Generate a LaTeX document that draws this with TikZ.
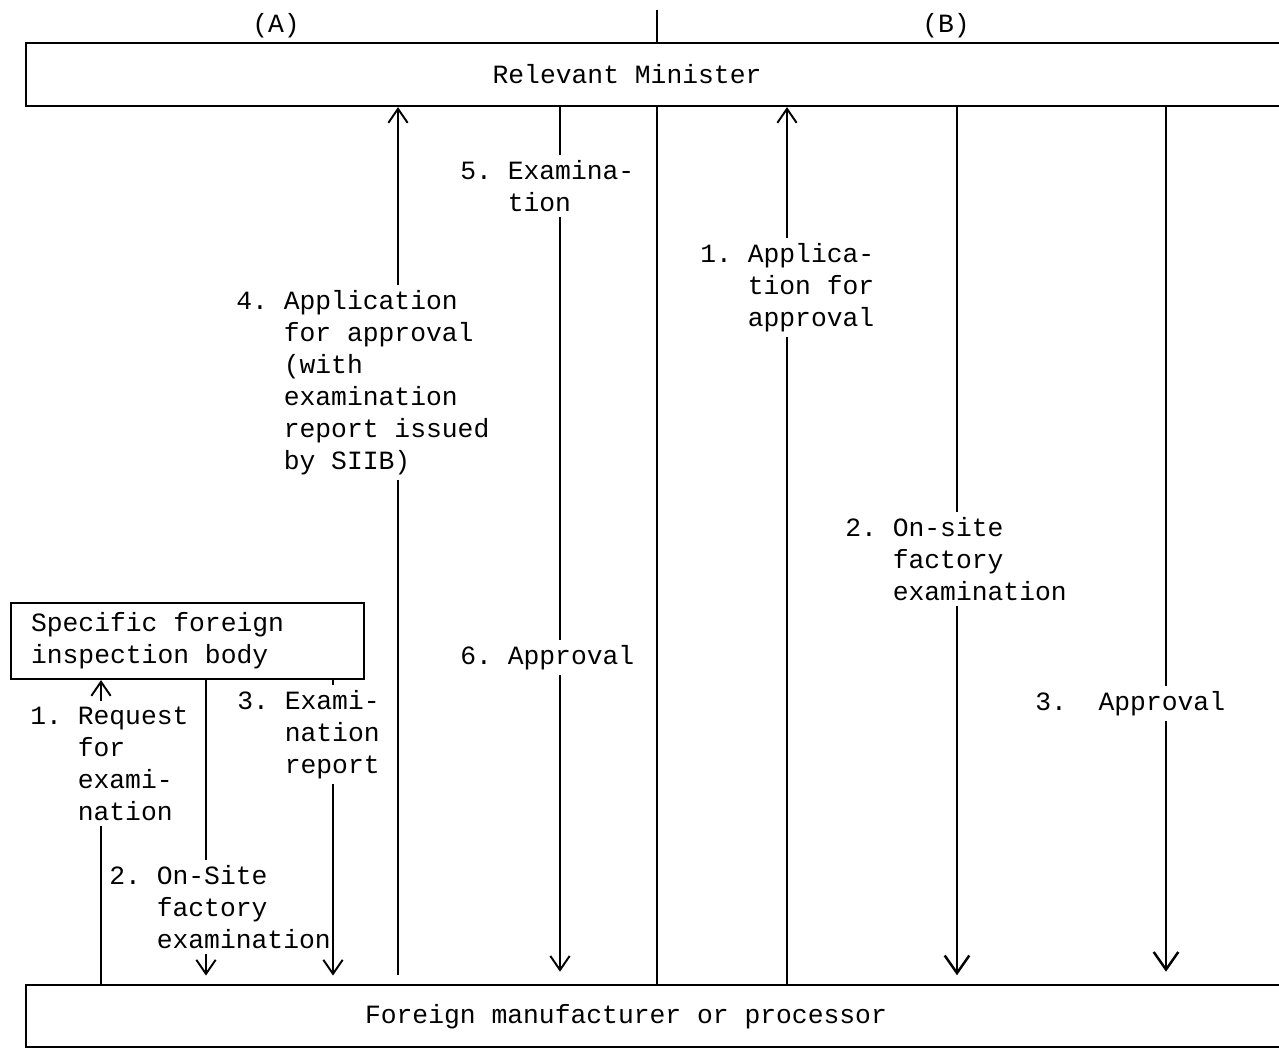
\documentclass[tikz,border=0pt]{standalone}
\usepackage{fontspec}
\setmainfont{Liberation Mono}
\setmonofont{Liberation Mono}
\usetikzlibrary{arrows.meta}
\newcommand\ind{\hphantom{0.~}}
\begin{document}
\begin{tikzpicture}[x=0.02cm,y=-0.02cm,
  font=\fontsize{15}{18.2}\selectfont,
  every node/.append style={text=black},
  bigbox/.style={draw, line width=1.2pt, anchor=north west, inner sep=0pt},
  lab/.style={align=left, anchor=north west, inner xsep=0pt, inner ysep=3pt, fill=white},
  conn/.style={line width=1.1pt},
  arrA/.style={line width=1.1pt, -{Straight Barb[length=8pt,width=11pt,line width=1.1pt]}},
  arrB/.style={line width=1.4pt, -{Straight Barb[length=10pt,width=14pt,line width=1.4pt]}}]
\useasboundingbox (0,0) rectangle (1279,1049);
\frenchspacing
% boxes
\node[bigbox, minimum width=25.5cm, minimum height=1.26cm] (min) at (25,42) {};
\node (mintxt) at (627,74) {Relevant Minister};
\node[bigbox, minimum width=25.5cm, minimum height=1.24cm] (fm) at (25,984) {};
\node (fmtxt) at (626,1017) {Foreign manufacturer or processor};
\node[draw, line width=1.2pt, anchor=north west, inner xsep=0.4cm, inner ysep=0pt,
      minimum height=1.52cm, align=left] (sfib) at (10,602)
      {\makebox[6.26cm][l]{Specific foreign}\\inspection body};
\node (A) at (276,26) {(A)};
\node (B) at (946,26) {(B)};
% columns
\coordinate (a1) at (101,0);
\coordinate (a2) at (206,0);
\coordinate (a3) at (333,0);
\coordinate (a4) at (398,0);
\coordinate (a5) at (560,0);
\coordinate (dv) at (657,10);
\coordinate (b1) at (787,0);
\coordinate (b2) at (957,0);
\coordinate (b3) at (1166,0);
% divider
\draw[conn] (dv) -- (dv |- min.north);
\draw[conn] (dv |- min.south) -- (dv |- fm.north);
% (A) arrows
\draw[arrA] (a1 |- fm.north) -- (a1 |- sfib.south);
\draw[arrA, shorten >=8pt*0.6] (a2 |- sfib.south) -- (a2 |- fm.north);
\draw[arrA, shorten >=8pt*0.6] (a3 |- sfib.south) -- (a3 |- fm.north);
\draw[arrA, shorten <=5pt] (a4 |- fm.north) -- (a4 |- min.south);
\draw[arrA, shorten >=7pt] (a5 |- min.south) -- (a5 |- fm.north);
% (B) arrows
\draw[arrA] (b1 |- fm.north) -- (b1 |- min.south);
\draw[arrB, shorten >=5pt] (b2 |- min.south) -- (b2 |- fm.north);
\draw[arrB, shorten >=7pt] (b3 |- min.south) -- (b3 |- fm.north);
% labels (A)
\node[lab] (l1) at (30,701) {1.~Request\\\ind for\\\ind exami-\\\ind nation};
\node[lab] (l2) at (109,860) {2.~On-Site\\\ind factory\\\ind examination};
\node[lab] (l3) at (237,685) {3.~Exami-\\\ind nation\\\ind report};
\node[lab] (l4) at (236,285) {4.~Application\\\ind for~approval\\\ind (with\\\ind examination\\\ind report~issued\\\ind by~SIIB)};
\node[lab] (l5) at (460,155) {5.~Examina-\\\ind tion};
\node[lab] (l6) at (460,640) {6.~Approval};
% labels (B)
\node[lab] (m1) at (700,238) {1.~Applica-\\\ind tion~for\\\ind approval};
\node[lab] (m2) at (845,512) {2.~On-site\\\ind factory\\\ind examination};
\node[lab] (m3) at (1035,686) {3.~~Approval};
\end{tikzpicture}
\end{document}
